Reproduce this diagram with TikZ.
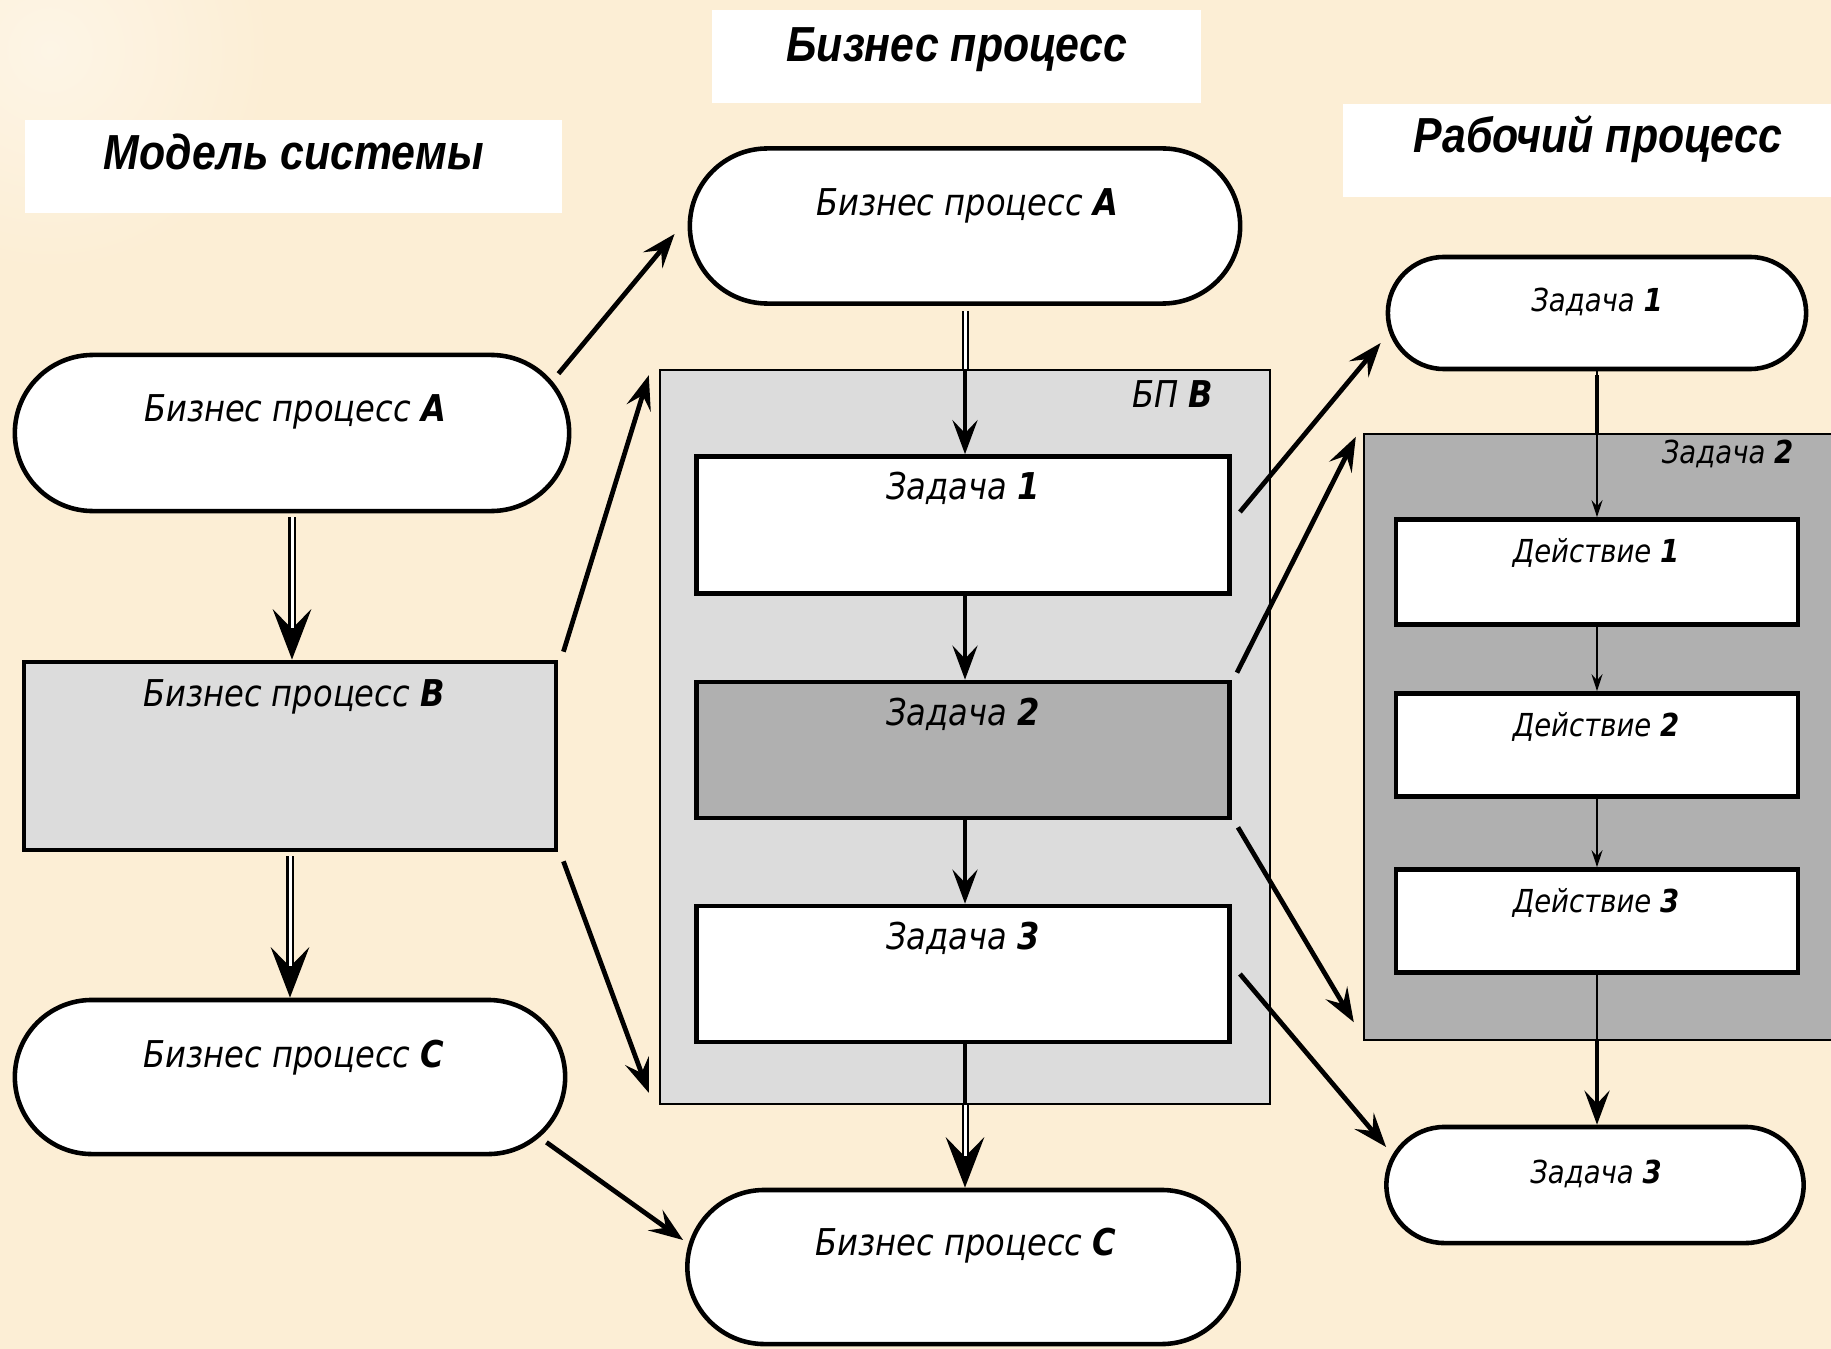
\documentclass[tikz,border=0pt]{standalone}
\usepackage{fontspec}
\setmainfont{DejaVu Sans}[FakeStretch=0.87]
\newfontfamily\headfont{Liberation Sans}[FakeStretch=0.87]
\usetikzlibrary{arrows.meta, calc}
\definecolor{bgbeige}{RGB}{252,238,213}
\definecolor{bplight}{RGB}{220,220,220}
\definecolor{bpdark}{RGB}{176,176,176}

\begin{document}
\begin{tikzpicture}[x=0.01cm, y=-0.01cm,
	stad/.style={draw, line width=1.3pt, fill=white},
	box/.style={draw, line width=1.3pt},
	frame/.style={draw, line width=0.6pt},
	txt/.style={anchor=base, inner sep=0pt, font=\fontsize{10.5}{12}\selectfont\itshape},
	stxt/.style={anchor=base, inner sep=0pt, font=\fontsize{9}{11}\selectfont\itshape},
	ttl/.style={anchor=base, inner sep=0pt, font=\headfont\fontsize{14}{16}\selectfont\bfseries\itshape},
	dbl/.style={draw, line width=0.57pt, double=white, double distance=0.85pt},
	bigarr/.style={-{Stealth[length=0.5cm, width=0.38cm, inset=0.19cm]}, line width=2pt},
	midarr/.style={-{Stealth[length=0.34cm, width=0.25cm, inset=0.13cm]}, line width=1.35pt},
	smallarr/.style={-{Stealth[length=0.17cm, width=0.11cm, inset=0.06cm]}, line width=0.6pt}]
	\useasboundingbox (0,0) rectangle (1831,1349);
	\clip (0,0) rectangle (1831,1349);
	\fill[bgbeige] (0,0) rectangle (1831,1349);
	\shade[inner color=white!40!bgbeige, outer color=bgbeige] (50,50) circle (2.2cm);

	\begin{scope}[every node/.style={inner sep=0pt}]
	% headings
	\node[fill=white, minimum width=5.37cm, minimum height=0.93cm] (hM) at (293.5,166.5) {};
	\node[fill=white, minimum width=4.89cm, minimum height=0.93cm] (hB) at (956.5,56.5) {};
	\node[fill=white, minimum width=5.0cm, minimum height=0.93cm] (hW) at (1593,150.5) {};

	% frames
	\node[frame, fill=bplight, minimum width=6.1cm, minimum height=7.33cm] (mB) at (965,737) {};
	\node[frame, fill=bpdark, minimum width=4.85cm, minimum height=6.06cm] (rB) at (1606.5,737) {};

	% left column
	\node[stad, minimum width=5.54cm, minimum height=1.56cm, rounded corners=0.78cm] (lA) at (292,433) {};
	\node[box, fill=bplight, minimum width=5.32cm, minimum height=1.88cm] (lB) at (290,756) {};
	\node[stad, minimum width=5.5cm, minimum height=1.54cm, rounded corners=0.77cm] (lC) at (290,1077) {};

	% middle column
	\node[stad, minimum width=5.5cm, minimum height=1.55cm, rounded corners=0.775cm] (mA) at (965,226) {};
	\node[box, fill=white, minimum width=5.33cm, minimum height=1.37cm] (t1) at (963,525) {};
	\node[box, fill=bpdark, minimum width=5.33cm, minimum height=1.36cm] (t2) at (963,750) {};
	\node[box, fill=white, minimum width=5.33cm, minimum height=1.36cm] (t3) at (963,974) {};
	\node[stad, minimum width=5.51cm, minimum height=1.54cm, rounded corners=0.77cm] (mC) at (963,1267) {};

	% right column
	\node[stad, minimum width=4.18cm, minimum height=1.12cm, rounded corners=0.56cm] (rT1) at (1597,313) {};
	\node[box, fill=white, minimum width=4.02cm, minimum height=1.05cm] (d1) at (1597,572) {};
	\node[box, fill=white, minimum width=4.02cm, minimum height=1.03cm] (d2) at (1597,745) {};
	\node[box, fill=white, minimum width=4.02cm, minimum height=1.03cm] (d3) at (1597,921) {};
	\node[stad, minimum width=4.17cm, minimum height=1.16cm, rounded corners=0.58cm] (rT3) at (1595,1185) {};
	\end{scope}

	% texts
	\node[ttl] (hMt) at (294,170) {Модель системы};
	\node[ttl] (hBt) at (957,62) {Бизнес процесс};
	\node[ttl] (hWt) at (1598,153) {Рабочий процесс};

	\node[txt] (lAt) at (295,421) {Бизнес процесс \textbf{A}};
	\node[txt] (lBt) at (294,706) {Бизнес процесс \textbf{B}};
	\node[txt] (lCt) at (294,1067) {Бизнес процесс \textbf{C}};

	\node[txt] (mAt) at (967,216) {Бизнес процесс \textbf{A}};
	\node[txt, anchor=base east] (mBt) at (1214,407) {БП \textbf{B}};
	\node[txt] (t1t) at (963,499) {Задача \textbf{1}};
	\node[txt] (t2t) at (963,725) {Задача \textbf{2}};
	\node[txt] (t3t) at (963,949) {Задача \textbf{3}};
	\node[txt] (mCt) at (966,1255) {Бизнес процесс \textbf{C}};

	\node[stxt] (rT1t) at (1597,311) {Задача \textbf{1}};
	\node[stxt, anchor=base east] (rBt) at (1794,463) {Задача \textbf{2}};
	\node[stxt] (d1t) at (1596,562) {Действие \textbf{1}};
	\node[stxt] (d2t) at (1596,736) {Действие \textbf{2}};
	\node[stxt] (d3t) at (1596,912) {Действие \textbf{3}};
	\node[stxt] (rT3t) at (1596,1183) {Задача \textbf{3}};

	% left column flow
	\draw[bigarr, shorten <=0.04cm] (lA.south) -- (lA.south |- lB.north);
	\draw[dbl, shorten <=0.04cm, shorten >=0.32cm] (lA.south) -- (lA.south |- lB.north);
	\draw[bigarr, shorten <=0.04cm] (lB.south) -- (lB.south |- lC.north);
	\draw[dbl, shorten <=0.04cm, shorten >=0.32cm] (lB.south) -- (lB.south |- lC.north);

	% middle column flow
	\draw[midarr, shorten <=0.05cm] (mA.south) -- (mA.south |- t1.north);
	\draw[dbl, shorten <=0.05cm] (mA.south) -- (mA.south |- mB.north);
	\draw[midarr] (t1.south -| mA.south) -- (mA.south |- t2.north);
	\draw[midarr] (t2.south -| mA.south) -- (mA.south |- t3.north);
	\draw[line width=1.35pt] (t3.south -| mA.south) -- (mA.south |- mB.south);
	\draw[bigarr] (mA.south |- mB.south) -- (mA.south |- mC.north);
	\draw[dbl, shorten >=0.32cm] (mA.south |- mB.south) -- (mA.south |- mC.north);

	% right column flow
	\draw[smallarr] (rT1.south) -- (rT1.south |- d1.north);
	\draw[line width=1.4pt, shorten <=0.04cm] (rT1.south) -- (rT1.south |- rB.north);
	\draw[smallarr] (d1.south) -- (d2.north);
	\draw[smallarr] (d2.south) -- (d3.north);
	\draw[line width=0.6pt] (d3.south) -- (d3.south |- rB.south);
	\draw[midarr] (d3.south |- rB.south) -- (d3.south |- rT3.north);

	% links between levels
	\draw[midarr] ([shift={(-13,21)}]lA.north east) -- ([shift={(-13,8)}]mA.west);
	\draw[midarr] ([shift={(5,-8)}]lB.north east) -- ([shift={(-10,6)}]mB.north west);
	\draw[midarr] ([shift={(5,9)}]lB.south east) -- ([shift={(-10,-12)}]mB.south west);
	\draw[midarr] ([shift={(-21,-14)}]lC.south east) -- ([shift={(-2,-27)}]mC.west);

	\draw[midarr] ([shift={(8,-13)}]t1.east) -- ([shift={(-5,30)}]rT1.west);
	\draw[midarr] ([shift={(5,-7)}]t2.north east) -- ([shift={(-7,4)}]rB.north west);
	\draw[midarr] ([shift={(6,7)}]t2.south east) -- ([shift={(-9,-19)}]rB.south west);
	\draw[midarr] ([shift={(8,0)}]t3.east) -- ([shift={(2,-38)}]rT3.west);
\end{tikzpicture}
\end{document}
